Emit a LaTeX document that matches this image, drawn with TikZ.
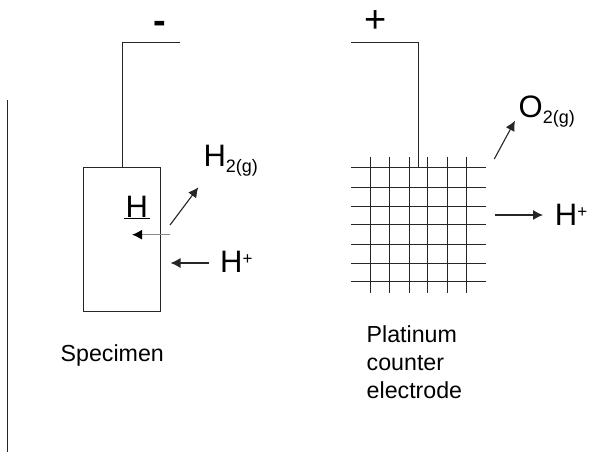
\documentclass[tikz,border=0pt]{standalone}
\usepackage{fontspec}
\setmainfont{Liberation Sans}
\usetikzlibrary{arrows.meta,positioning}
\newcommand{\bigtxt}{\fontsize{31}{31}\selectfont}
\newcommand{\subtxt}[1]{\raisebox{-6pt}{\fontsize{18}{18}\selectfont #1}}
\newcommand{\suptxt}[1]{\raisebox{8pt}{\fontsize{17}{17}\selectfont #1}}
\begin{document}
\begin{tikzpicture}[
    x=1pt, y=-1pt,
    every node/.style={inner sep=0pt},
    wire/.style={line width=1pt, black!85},
    mesh/.style={line width=1.1pt, black!85},
    flow/.style={-{Latex[length=10pt,width=10pt]}, line width=1.1pt, black!85},
    species/.style={font=\bigtxt, anchor=base west},
    polarity/.style={font=\fontsize{38}{38}\selectfont, anchor=base},
    caption/.style={font=\fontsize{23.2}{28.2}\selectfont, align=left, anchor=base west}
]
\useasboundingbox (0,0) rectangle (605,452);
\node[draw, wire, minimum width=76.5pt, minimum height=144pt] (specimen) at (121.75,239) {};
\coordinate (negEnd) at (180,43);
\coordinate (negCorner) at (122,43);
\coordinate (specimenTop) at (122,167);
\draw[wire] (negEnd) -- (negCorner) -- (specimenTop);
\coordinate (posEnd) at (351,43);
\coordinate (posCorner) at (418.5,43);
\coordinate (meshTop) at (418.5,167);
\draw[wire] (posEnd) -- (posCorner) -- (meshTop);
\coordinate (cellTop) at (7.5,100);
\coordinate (cellBottom) at (7.5,452);
\draw[wire] (cellTop) -- (cellBottom);
% counter electrode mesh
\foreach \y in {167.5,187.5,206.5,224.5,244.5,263.5,281.5}
    \draw[mesh] (351,\y) -- (485.7,\y);
\foreach \x in {370.5,389.5,409.5,427.5,447.5,466.5}
    \draw[mesh] (\x,157.3) -- (\x,293.3);
\node[polarity] (minus) at (160,34) {\textbf{-}};
\node[polarity] (plus) at (376,33) {+};
\node[species] (hatom) at (124,217) {\underline{\kern1.5pt H\kern1.5pt}};
\node[species] (htwo) at (203.3,166.7) {H\subtxt{2(g)}};
\node[species] (hplusin) at (220,272.7) {H\suptxt{+}};
\node[species] (otwo) at (518.5,117) {O\subtxt{2(g)}};
\node[species] (hplusout) at (554.7,225) {H\suptxt{+}};
\node[caption] (speclabel) at (60.5,361.7) {Specimen};
\node[caption, anchor=north west] (ptlabel) at (366.5,325.5) {Platinum\\counter\\electrode};
\coordinate (htwoStart) at (170,225);
\coordinate (htwoTip) at (198.3,187.3);
\draw[flow] (htwoStart) -- (htwoTip);
\coordinate (hatomStart) at (170,234.7);
\coordinate (hatomTip) at (132,234.7);
\draw[-{Latex[length=10pt,width=10pt,black]}, line width=1.3pt, black!45] (hatomStart) -- (hatomTip);
\coordinate (hplusinStart) at (209,263);
\coordinate (hplusinTip) at (170.5,263);
\draw[flow] (hplusinStart) -- (hplusinTip);
\coordinate (otwoStart) at (494.3,159);
\coordinate (otwoTip) at (515,120.7);
\draw[flow] (otwoStart) -- (otwoTip);
\coordinate (hplusoutStart) at (495,215);
\coordinate (hplusoutTip) at (543,215);
\draw[flow] (hplusoutStart) -- (hplusoutTip);
\end{tikzpicture}
\end{document}
